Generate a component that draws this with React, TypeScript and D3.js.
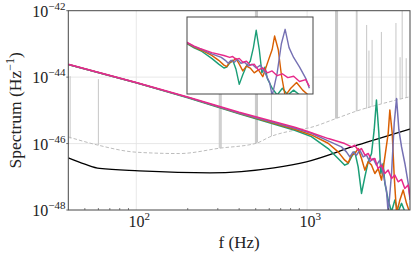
import * as d3 from 'd3';

// frequency range and y decades (log10 of the spectrum)
const fRange = [40, 4000];
const yDecades = [-48, -42];
const yTickExps = [-48, -46, -44, -42];
const xTickExps = [2, 3];
const xMinor = [50, 60, 70, 80, 90, 200, 300, 400, 500, 600, 700, 800, 900, 2000, 3000];

// [frequency Hz, log10 spectrum]
const greenSeries = [
  [40, -43.62], [100, -44.17], [200, -44.62], [400, -45.1], [846, -45.6], [1059, -45.79],
  [1327, -46.15], [1518, -46.45], [1661, -46.65], [1738, -46.6], [1818, -46.4], [1902, -46.25],
  [1989, -46.7], [2081, -47.5], [2177, -47.0], [2277, -46.55], [2382, -46.3], [2468, -45.59],
  [2545, -44.69], [2629, -45.69], [2700, -46.9], [2786, -46.6], [2851, -47.2], [2982, -47.7],
  [3119, -48.05], [3262, -47.7], [3412, -48.05], [3569, -47.8], [3733, -48.05], [4000, -48.05],
];
const orangeSeries = [
  [40, -43.62], [100, -44.17], [200, -44.61], [400, -45.09], [846, -45.57], [1059, -45.74],
  [1327, -45.99], [1518, -46.25], [1661, -46.5], [1738, -46.58], [1818, -46.35], [1902, -46.3],
  [1989, -46.15], [2081, -46.45], [2177, -46.8], [2277, -46.55], [2382, -46.65], [2491, -46.9],
  [2606, -46.75], [2725, -47.1], [2851, -46.4], [2982, -45.69], [3048, -44.99], [3148, -45.69],
  [3234, -47.0], [3337, -48.1], [3491, -47.7], [3650, -47.4], [3817, -47.8], [4000, -48.1],
];
const purpleSeries = [
  [40, -43.62], [100, -44.17], [200, -44.61], [400, -45.08], [846, -45.54], [1059, -45.69],
  [1327, -45.92], [1588, -46.1], [1698, -46.25], [1778, -46.4], [1859, -46.25], [1945, -46.35],
  [2034, -46.2], [2128, -46.4], [2225, -46.35], [2328, -46.55], [2434, -46.45], [2545, -46.65],
  [2663, -46.5], [2786, -46.9], [2912, -47.4], [2982, -48.1], [3119, -46.9], [3234, -45.39],
  [3337, -44.64], [3444, -45.59], [3569, -46.1], [3733, -46.6], [3905, -47.2], [4000, -47.7],
];
const pinkSeries = [
  [40, -43.61], [100, -44.16], [200, -44.6], [400, -45.06], [846, -45.51], [1000, -45.63],
  [1330, -45.85], [1660, -46.0], [1820, -46.1], [1900, -46.05], [1990, -46.2], [2080, -46.15],
  [2180, -46.35], [2280, -46.3], [2380, -46.5], [2490, -46.45], [2600, -46.75], [2730, -46.65],
  [2850, -46.9], [2980, -46.8], [3120, -47.05], [3260, -46.95], [3410, -47.15], [3570, -47.08],
  [3730, -47.35], [3900, -47.25], [4000, -47.6],
];
const blackSeries = [
  [40, -46.43], [50, -46.62], [61, -46.75], [104, -46.82], [270, -46.88], [640, -46.73],
  [990, -46.55], [1960, -46.05], [4000, -45.56],
];
const noiseFloor = [
  [40, -45.8], [60, -46.05], [100, -46.26], [179, -46.3], [307, -46.14], [505, -45.99],
  [604, -45.8], [866, -45.59], [1000, -45.54], [1487, -45.24], [1950, -45.02], [2790, -44.79],
  [4000, -44.59],
];
// [frequency, top, bottom] of the narrow lines in the noise spectrum
const noiseLines = [
  [41, -43.97, -45.85], [60, -44.06, -46.05],
  [306, -43.2, -46.14], [310, -43.0, -46.14], [314, -43.2, -46.13],
  [498, -41, -46.0], [505, -41, -45.99], [512, -41, -45.97],
  [618, -43.3, -45.78], [1000, -43.5, -45.54],
  [1467, -41, -45.25], [1487, -41, -45.24], [1507, -41, -45.23],
  [1940, -41, -45.03], [1960, -41, -45.02],
  [2230, -42.43, -44.95], [2300, -43.2, -44.93], [2400, -42.88, -44.9],
  [2720, -42.64, -44.8], [3310, -42.37, -44.7], [3500, -43.4, -44.66],
  [3600, -41, -44.64], [3800, -43.43, -44.62],
];
const insetF = [650, 4100];
const insetDecades = [-48, -44];

const series = [
  { data: greenSeries, color: '#1b9e77' },
  { data: orangeSeries, color: '#d95f02' },
  { data: purpleSeries, color: '#7570b3' },
  { data: pinkSeries, color: '#e7298a' },
];

const W = 415, H = 255;
const plot = { left: 68.3, right: 410, top: 10.7, bottom: 210 };
const inset = { left: 187, right: 313, top: 17, bottom: 94 };
const font = "'Liberation Serif', 'Times New Roman', serif";
const axisColor = '#474747';
const gridColor = '#e2e2e2';

function Pow({ base, exp, x, y, anchor, size, supSize, supDy }) {
  return (
    <text x={x} y={y} textAnchor={anchor} fontFamily={font} fontSize={size} fill="#222">
      {base}
      <tspan dy={supDy} fontSize={supSize}>{exp}</tspan>
    </text>
  );
}

export default function App() {
  const x = d3.scaleLog().domain(fRange).range([plot.left, plot.right]);
  const y = d3.scaleLog().domain(yDecades.map(e => Math.pow(10, e))).range([plot.bottom, plot.top]);
  const xi = d3.scaleLinear().domain(insetF).range([inset.left, inset.right]);
  const yi = d3.scaleLog().domain(insetDecades.map(e => Math.pow(10, e))).range([inset.bottom, inset.top]);

  const line = d3.line().x(d => x(d[0])).y(d => y(Math.pow(10, d[1])));
  const smooth = d3.line().x(d => x(d[0])).y(d => y(Math.pow(10, d[1]))).curve(d3.curveMonotoneX);
  const insetLine = d3.line().x(d => xi(d[0])).y(d => yi(Math.pow(10, d[1])));

  return (
    <svg width={W} height={H} style={{ position: 'absolute', left: 0, top: 0 }}>
      <defs>
        <clipPath id="plotClip">
          <rect x={plot.left} y={plot.top} width={plot.right - plot.left} height={plot.bottom - plot.top} />
        </clipPath>
        <clipPath id="insetClip">
          <rect x={inset.left} y={inset.top} width={inset.right - inset.left} height={inset.bottom - inset.top} />
        </clipPath>
      </defs>
      <rect width={W} height={H} fill="white" />

      {/* grid */}
      {xTickExps.map(e => (
        <line key={'gx' + e} x1={x(Math.pow(10, e))} x2={x(Math.pow(10, e))} y1={plot.top} y2={plot.bottom}
          stroke={gridColor} strokeWidth={0.8} />
      ))}
      {yTickExps.slice(1, -1).map(e => (
        <line key={'gy' + e} x1={plot.left} x2={plot.right} y1={y(Math.pow(10, e))} y2={y(Math.pow(10, e))}
          stroke={gridColor} strokeWidth={0.8} />
      ))}

      <g clipPath="url(#plotClip)">
        {noiseLines.map((d, i) => (
          <line key={'nl' + i} x1={x(d[0])} x2={x(d[0])} y1={y(Math.pow(10, d[1]))} y2={y(Math.pow(10, d[2]))}
            stroke="#c6c6c6" strokeWidth={1} />
        ))}
        <path d={smooth(noiseFloor)} fill="none" stroke="#bcbcbc" strokeWidth={1} strokeDasharray="3.5,2" />
        <path d={smooth(blackSeries)} fill="none" stroke="#000" strokeWidth={1.3} />
        {series.map(s => (
          <path key={s.color} d={line(s.data)} fill="none" stroke={s.color} strokeWidth={1.5} strokeLinejoin="round" />
        ))}
      </g>

      {/* inset */}
      <rect x={inset.left} y={inset.top} width={inset.right - inset.left} height={inset.bottom - inset.top} fill="white" />
      <g clipPath="url(#insetClip)">
        {series.map(s => (
          <path key={'i' + s.color} d={insetLine(s.data)} fill="none" stroke={s.color} strokeWidth={1.4} strokeLinejoin="round" />
        ))}
      </g>
      <rect x={inset.left} y={inset.top} width={inset.right - inset.left} height={inset.bottom - inset.top}
        fill="none" stroke={axisColor} strokeWidth={1} />

      {/* axes frame and ticks */}
      <rect x={plot.left} y={plot.top} width={plot.right - plot.left} height={plot.bottom - plot.top}
        fill="none" stroke={axisColor} strokeWidth={1} />
      {xMinor.map(f => (
        <line key={'mx' + f} x1={x(f)} x2={x(f)} y1={plot.bottom} y2={plot.bottom - 2}
          stroke={axisColor} strokeWidth={0.7} />
      ))}
      {yTickExps.map(e => (
        <line key={'ty' + e} x1={plot.left - 2} x2={plot.left} y1={y(Math.pow(10, e))} y2={y(Math.pow(10, e))}
          stroke={axisColor} strokeWidth={0.8} />
      ))}

      {yTickExps.map(e => (
        <Pow key={'ly' + e} base="10" exp={'\u2212' + Math.abs(e)} x={65.5} y={y(Math.pow(10, e)) + 6}
          anchor="end" size={16} supSize={11} supDy={-7} />
      ))}
      {xTickExps.map(e => (
        <Pow key={'lx' + e} base="10" exp={String(e)} x={x(Math.pow(10, e)) + 3} y={227.3}
          anchor="middle" size={16} supSize={11} supDy={-7} />
      ))}

      <text x={(plot.left + plot.right) / 2} y={248} textAnchor="middle" fontFamily={font} fontSize={17} fill="#222">
        f (Hz)
      </text>
      <text transform={`translate(20.5, ${(plot.top + plot.bottom) / 2}) rotate(-90)`} textAnchor="middle"
        fontFamily={font} fontSize={17.5} fill="#222">
        Spectrum (Hz<tspan dy={-6.5} fontSize={12}>{'\u22121'}</tspan><tspan dy={6.5}>)</tspan>
      </text>
    </svg>
  );
}
